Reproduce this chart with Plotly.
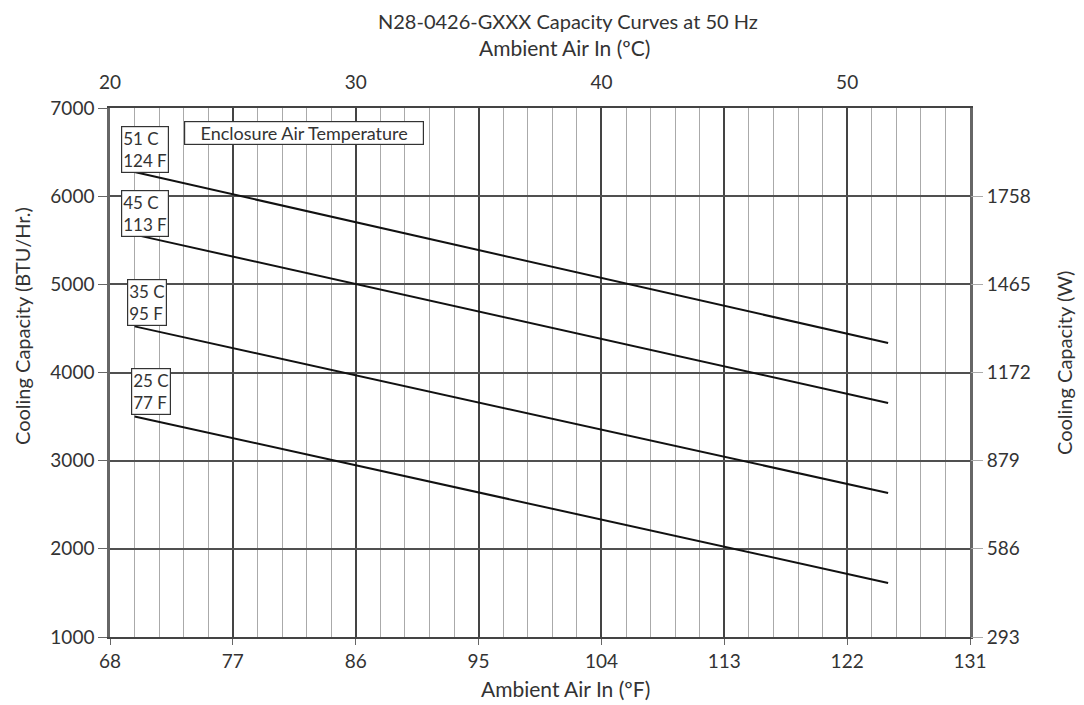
import plotly.graph_objects as go

# ---- data ----
ENCL_C = ["51 C", "45 C", "35 C", "25 C"]
ENCL_F = ["124 F", "113 F", "95 F", "77 F"]
AMB_F = [69.8, 125.0]                      # ambient air (°F) start/end of each curve
CAP_START = [6274, 5564, 4523, 3502]       # BTU/Hr at start
CAP_END = [4335, 3654, 2633, 1613]         # BTU/Hr at end
LABEL_POS_BTU = [6524, 5809, 4794, 3790]   # label box centers
LABEL_POS_F = [70.6, 70.6, 70.7, 71.0]

F_TICKS = [68, 77, 86, 95, 104, 113, 122, 131]
C_TICKS = [20, 30, 40, 50]
BTU_TICKS = [1000, 2000, 3000, 4000, 5000, 6000, 7000]
W_TICKS = [1000, 2000, 3000, 4000, 5000, 6000]
W_LABELS = ["293", "586", "879", "1172", "1465", "1758"]

FONT = "Lato"
TXT = "#333333"

# page body has an 8px default margin; compensate
OFF = 8
W, H = 1084 - OFF, 705 - OFF
L, T = 110 - OFF, 108 - OFF
R = W - (970 - OFF)
B = H - (637 - OFF)
pw, ph = W - L - R, H - T - B


def px(x):
    return (x - OFF - L) / pw


def py(y):
    return (H - B - (y - OFF)) / ph


fig = go.Figure()
for i in range(len(ENCL_C)):
    fig.add_trace(go.Scatter(x=AMB_F, y=[CAP_START[i], CAP_END[i]], mode="lines",
                             line=dict(color="#111111", width=2), showlegend=False,
                             hoverinfo="skip"))
# invisible trace to anchor top (°C) and right (W) axes
fig.add_trace(go.Scatter(x=[20, 55], y=[1000, 7000], xaxis="x2", yaxis="y2",
                         mode="markers", marker=dict(opacity=0), showlegend=False,
                         hoverinfo="skip"))

for i in range(len(ENCL_C)):
    fig.add_annotation(x=LABEL_POS_F[i], y=LABEL_POS_BTU[i], xref="x", yref="y",
                       text=f"{ENCL_C[i]}<br>{ENCL_F[i]}", showarrow=False,
                       font=dict(family=FONT, size=17, color=TXT),
                       bgcolor="white", bordercolor="#333", borderwidth=1.2, borderpad=1,
                       align="left")
fig.add_annotation(x=82.2, y=6722, xref="x", yref="y", text="Enclosure Air Temperature",
                   showarrow=False, font=dict(family=FONT, size=18, color=TXT),
                   width=238, align="center",
                   bgcolor="white", bordercolor="#333", borderwidth=1.2, borderpad=0)

titles = [
    ("Ambient Air In (ºC)", 564, 47, 0, 21),
    ("Ambient Air In (ºF)", 565, 688, 0, 21),
    ("Cooling Capacity (BTU/Hr.)", 22, 326, -90, 20),
    ("Cooling Capacity (W)", 1064, 363, -90, 20),
]
for text, x, y, ang, sz in titles:
    fig.add_annotation(x=px(x), y=py(y), xref="paper", yref="paper", text=text,
                       textangle=ang, showarrow=False, xanchor="center", yanchor="middle",
                       font=dict(family=FONT, size=sz, color=TXT))
# main title, anchored to the very top of the figure
fig.add_annotation(x=px(568), y=py(OFF), xref="paper", yref="paper",
                   text="N28-0426-GXXX Capacity Curves at 50 Hz", showarrow=False,
                   xanchor="center", yanchor="top", borderpad=0,
                   font=dict(family=FONT, size=20, color=TXT))

fig.update_layout(
    width=W, height=H, margin=dict(l=L, r=R, t=T, b=B),
    paper_bgcolor="white", plot_bgcolor="white",
    font=dict(family=FONT, size=19, color=TXT),
    xaxis=dict(range=[68, 131], tickvals=F_TICKS, showgrid=True, gridcolor="#444",
               gridwidth=1.6, ticks="outside", ticklen=6, tickcolor="#666",
               showline=True, linecolor="#444", linewidth=1.5, mirror=True,
               zeroline=False,
               minor=dict(tick0=68, dtick=1.8, showgrid=True, gridcolor="#aaaaaa",
                          gridwidth=1, ticks="")),
    yaxis=dict(range=[1000, 7000], tickvals=BTU_TICKS, showgrid=True, gridcolor="#505050",
               gridwidth=1.5, ticks="outside", ticklen=9, tickcolor="#666",
               showline=True, linecolor="#666", linewidth=2.5, mirror=True,
               zeroline=False),
    xaxis2=dict(range=[20, 55], tickvals=C_TICKS, overlaying="x", side="top",
                showgrid=False, ticks="", zeroline=False, showline=False,
                ticklabelstandoff=14),
    yaxis2=dict(range=[1000, 7000], tickvals=W_TICKS, ticktext=W_LABELS,
                overlaying="y", side="right", showgrid=False, ticks="outside",
                ticklen=12, tickcolor="#aaa", zeroline=False, showline=False),
)

fig.write_html("out.html")
